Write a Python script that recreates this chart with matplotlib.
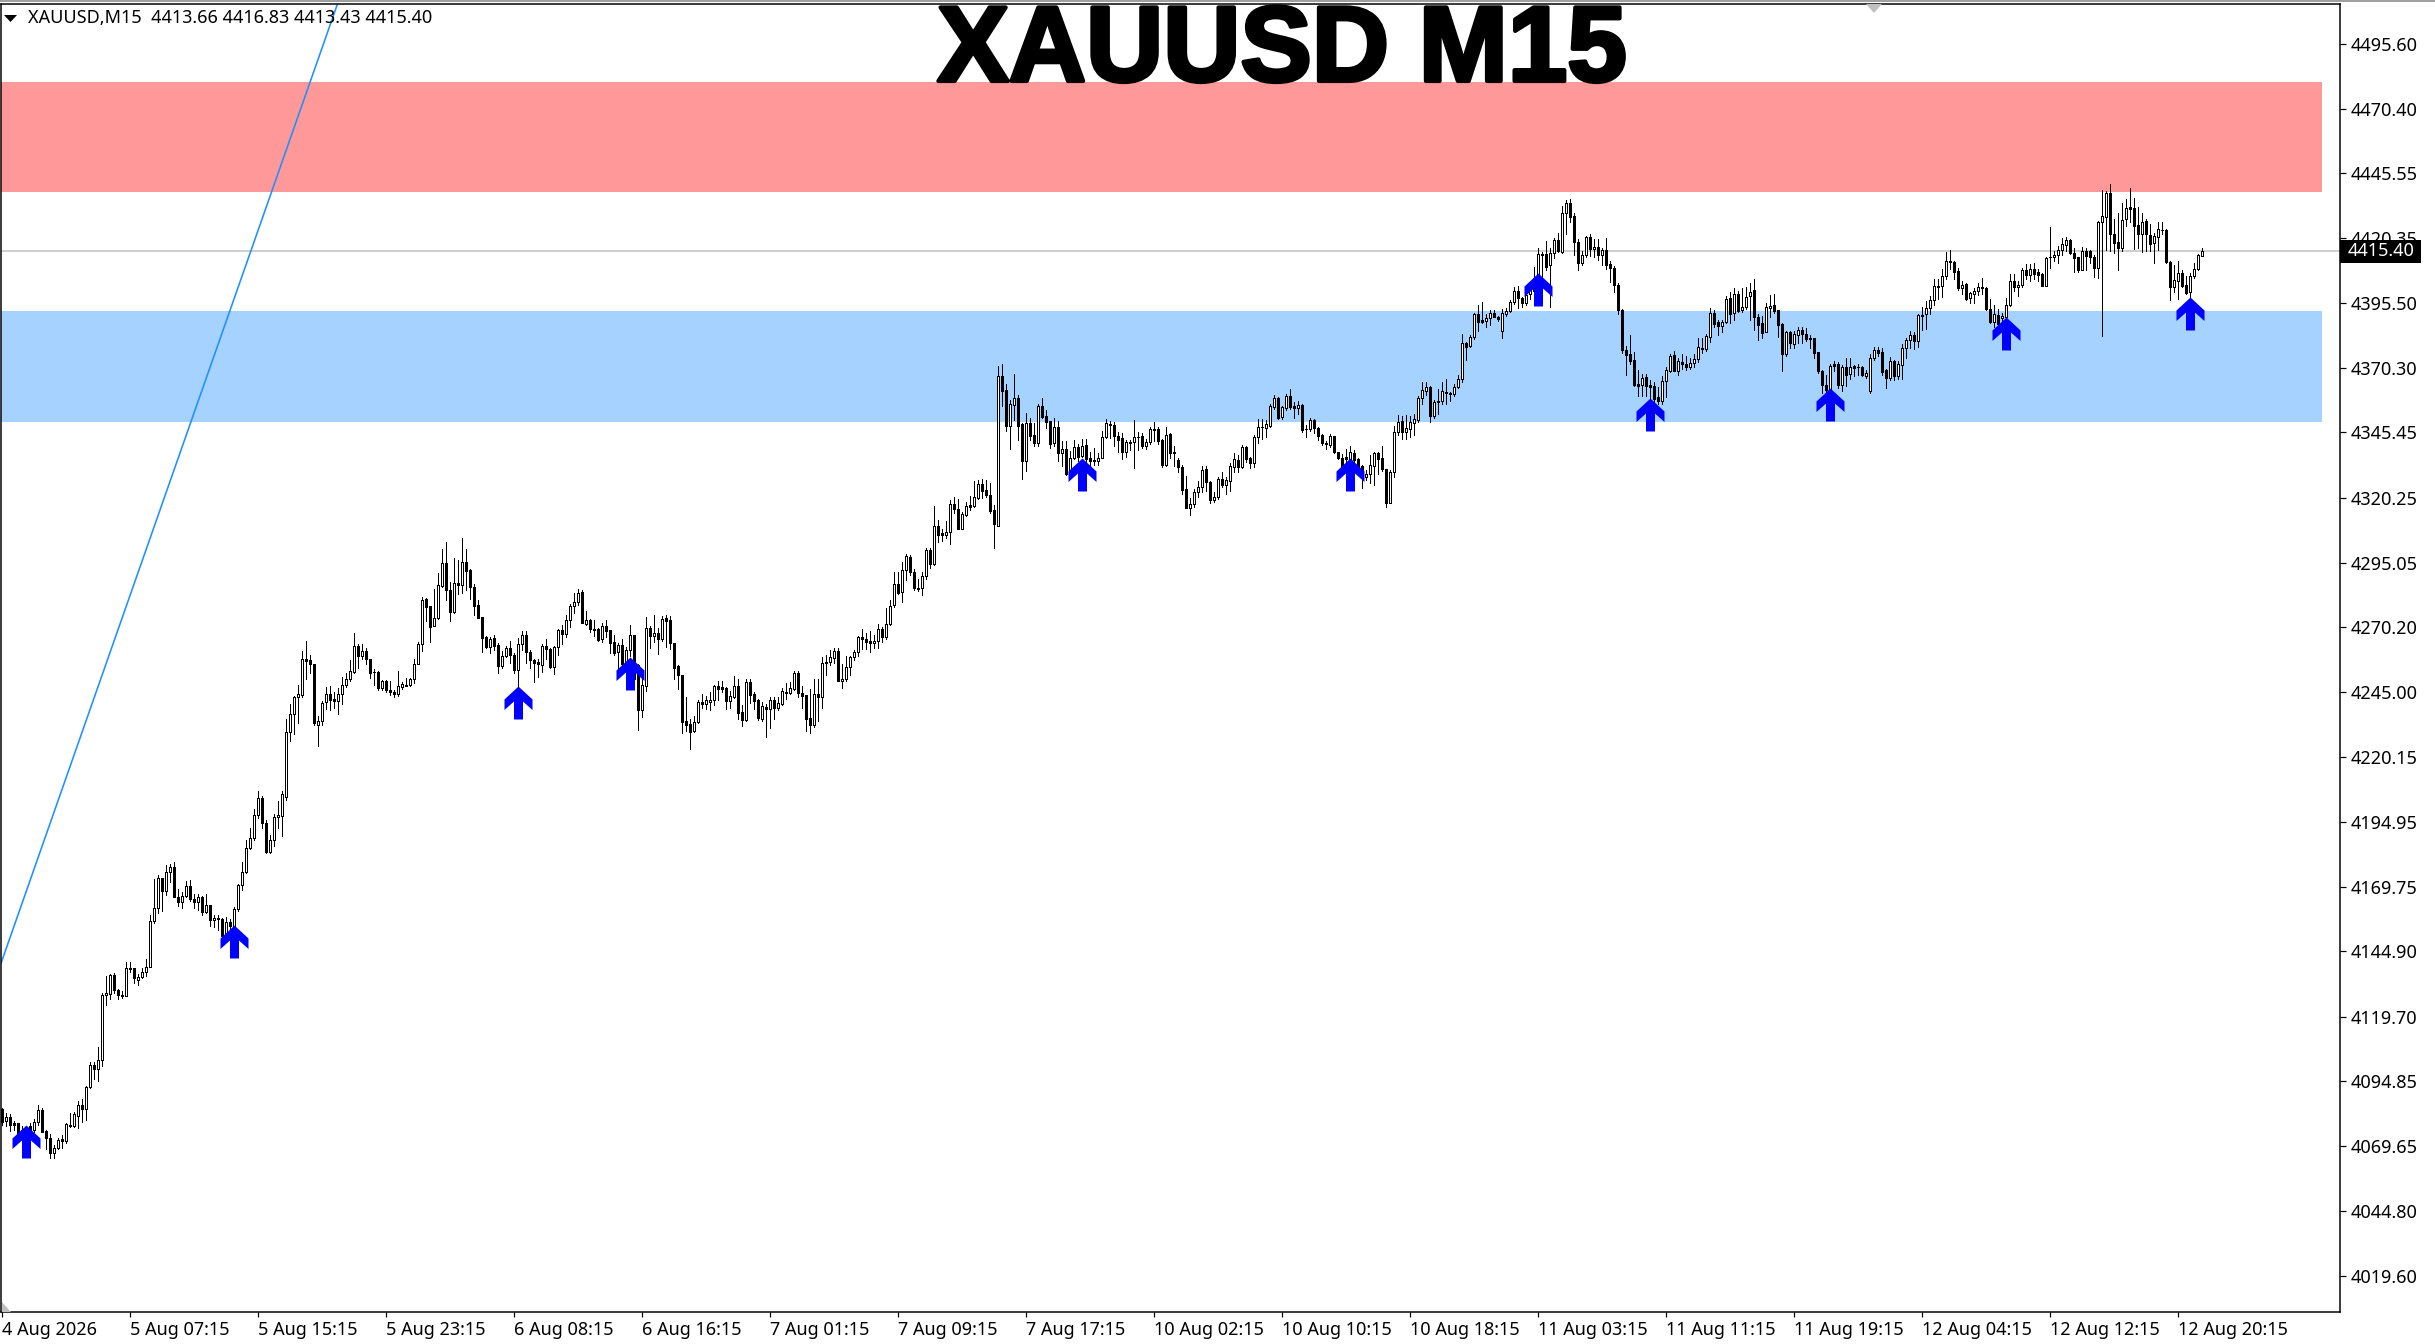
import matplotlib
matplotlib.use("Agg")
import matplotlib.pyplot as plt
import matplotlib.patheffects as pe
from matplotlib.path import Path
from matplotlib.patches import Polygon, Rectangle
from matplotlib.transforms import blended_transform_factory

W, H = 2435, 1344
BLUE_ZONE = "#A6D2FF"
RED_ZONE = "#FF9999"

opens = [
4084,4079.5,4081,4078.5,4078.5,4076,4075.5,4077.5,4076,4079,
4083.5,4075.5,4073,4067,4069,4072.5,4071.5,4078,4077.5,4081.5,
4085.5,4084,4092.5,4101,4099.5,4103,4128,4128.5,4135.7,4130,
4128.2,4127.8,4138.4,4138.4,4134,4135,4136.8,4139,4156.6,4161.5,
4173.1,4168.4,4175.4,4177.4,4166,4164.1,4166.4,4170.3,4165.1,4164.1,
4165.8,4160.3,4162.7,4157,4158,4157.6,4151.2,4156.4,4154.7,4161.2,
4170.6,4175.7,4184.7,4188.6,4197.6,4204,4194.6,4183.4,4188,4196.7,
4197.4,4204.4,4229.5,4236.6,4243.2,4244,4257.7,4257.4,4255.8,4232.5,
4234.1,4241.3,4244.4,4242.3,4241.7,4244.5,4248,4250,4253,4262.7,
4259.1,4260.8,4258,4253,4253,4246.7,4249.3,4246,4245,4244.3,
4247.1,4248,4247.8,4250,4256,4263.5,4280.9,4278.3,4270.7,4273.8,
4286,4294.8,4284.7,4276.1,4287.4,4286.3,4295.2,4292.2,4285.5,4278.6,
4273.9,4266.3,4262.6,4265.8,4263.2,4255.2,4259.1,4262,4259.4,4253.7,
4263.6,4267,4260.4,4257.4,4256.6,4255.6,4263,4261.7,4254.9,4262.6,
4269,4267.7,4273.1,4278.3,4279.7,4283.6,4271.5,4273.1,4269.6,4269.4,
4265.4,4270.8,4269,4264.3,4260.7,4263.1,4255.9,4261.3,4267,4255.5,
4238.1,4247.5,4270,4266.7,4268.1,4265.7,4273.8,4273.1,4263.9,4255.1,
4251.5,4234.1,4232.6,4229.9,4233.5,4241.4,4240.6,4241.1,4241.9,4247.4,
4247,4246.5,4241.6,4243.3,4247.4,4237.3,4234.2,4249,4244.5,4242,
4234.7,4239.5,4238.6,4242.2,4238.9,4240.3,4245.1,4244.8,4246.2,4252.5,
4244.9,4243.9,4234.9,4232.3,4244.3,4243.3,4256.6,4256.6,4258.3,4260.9,
4249.4,4250,4254.6,4258.5,4260.6,4266.2,4265.7,4265,4263.9,4264.9,
4269.3,4266.4,4271.2,4278.7,4286.7,4283.6,4292.1,4297.1,4291.3,4285.2,
4285.1,4290,4299.8,4294.6,4309.1,4306.6,4305.8,4307,4317.6,4316,
4308.2,4313.6,4317.3,4317,4320.2,4325.3,4323,4321.2,4315.4,4309.4,
4367,4361.6,4348,4356,4358.5,4348.6,4334.4,4349.2,4344.4,4341.5,
4355.6,4351.7,4349.8,4341.4,4347.3,4337.5,4338.8,4329.2,4335.7,4339.6,
4336.2,4340.5,4335.4,4334.7,4334.4,4335.7,4343.6,4348.6,4348.1,4344,
4343.1,4338,4341.6,4341.8,4343.8,4344,4340.1,4341.6,4346.8,4346.7,
4342.5,4333,4344.6,4337.9,4334.7,4332.2,4323.4,4316.3,4317.6,4322.5,
4324.4,4331.1,4326.4,4319.3,4320.3,4327.3,4325.1,4326.8,4332.2,4334.7,
4332.2,4339.6,4335.4,4333.7,4343.5,4347.3,4347.2,4348,4355.4,4358.6,
4351.5,4354.8,4359.5,4355.6,4354.7,4356,4346.8,4346.7,4350.2,4347,
4344.4,4341.3,4340.5,4344,4337.9,4335.7,4336,4335,4337.6,4335,
4332.4,4328,4329.2,4332.4,4337.3,4335.4,4331.1,4318,4330.2,4345.4,
4349.8,4345.4,4346.7,4349.2,4350.1,4358.6,4361.5,4362.8,4351.7,4357.3,
4357.4,4360.9,4360.6,4360.3,4363.1,4366.2,4379.8,4378.9,4382.1,4391,
4388.7,4388.6,4389.5,4391.4,4389.9,4384.6,4391.3,4392.2,4395.6,4400,
4397.5,4395.5,4398.8,4400,4405,4414.5,4414.5,4410,4414.9,4419.7,
4415.2,4430,4434.2,4429,4418.8,4410.9,4413.8,4420.7,4416.2,4417.1,
4413.9,4415.7,4410.4,4409.1,4402.5,4392.6,4377.2,4375.7,4373.4,4364,
4363.7,4366.7,4363.6,4363.3,4359.1,4357.7,4365.4,4369.3,4375.2,4369.3,
4372.7,4372,4370.7,4372.3,4373.6,4378.2,4377.7,4382.3,4391.7,4388.1,
4386.5,4387.9,4397.3,4391.7,4398.7,4392.5,4394,4398,4400.4,4390,
4387.5,4384.3,4393.5,4394.6,4392.6,4387.2,4375.6,4384,4379.5,4383.1,
4384.9,4383.6,4381.7,4381.7,4376.3,4369.3,4363.9,4361.7,4371.7,4371.7,
4363.7,4370.7,4367.8,4371.1,4370.8,4370.5,4367.2,4361.3,4374.2,4377.2,
4376.3,4369.4,4366.5,4372.9,4367,4371.6,4378.2,4381,4383.2,4380.8,
4390.7,4391,4393.3,4396.5,4402,4402,4405.8,4411.6,4411.2,4407.7,
4401.2,4402.6,4397.5,4398.8,4400,4401.4,4401,4392.9,4388,4390.9,
4389.5,4390,4394.8,4403.7,4401.4,4402.4,4408,4406.1,4408.7,4407.4,
4406.5,4402,4413.3,4413.1,4414.1,4416,4417.8,4419.7,4414.9,4413,
4408.3,4415.5,4415.5,4413.2,4409,4426.7,4428.7,4437.7,4422.2,4418.8,
4416.7,4427.9,4432.3,4431.9,4425.4,4422.2,4427,4421.6,4418.4,4421,
4423.7,4423.5,4411.3,4401.6,4403.8,4406.8,4402.3,4399.7,4405.9,4408.4,
4413.66]

highs = [
4084.5,4082.5,4082,4079.5,4078.5,4077.5,4077,4078.5,4080,4085.5,
4084.5,4076,4074.5,4070,4073,4074,4078.5,4082.5,4083,4087,
4088,4093,4102,4102,4108,4129,4135.4,4136.2,4136.5,4130.5,
4129.5,4141,4141,4138.4,4136,4138.5,4141.8,4158.8,4172.9,4174.5,
4173.3,4178.2,4178.8,4179.4,4169,4168,4172,4172.4,4167,4167,
4166.3,4167,4163,4159,4158.9,4157.8,4158.3,4157.6,4162,4171,
4179.5,4188,4192.5,4200,4207,4205,4195.5,4190,4198,4203,
4206.8,4234.5,4240.3,4243.5,4247.8,4260.8,4265,4259.5,4255.8,4236,
4241.5,4247,4247.3,4245,4246.5,4250.8,4252.3,4257.3,4267.8,4263.5,
4263.5,4262,4258,4254,4253.3,4249.8,4249.8,4249.3,4245.8,4253.4,
4249,4250.5,4250.5,4258,4264.3,4282,4281.5,4278.5,4284.8,4291,
4300.3,4303,4287.8,4297,4296,4304.5,4300.3,4292.8,4287,4280.8,
4274,4266.6,4266.3,4267,4264,4261,4263,4265,4260,4265.8,
4268.5,4268.5,4261.2,4258,4258,4263.5,4265.5,4262,4262.8,4269.4,
4271,4275,4279,4283.5,4284.8,4284.5,4276.3,4273.4,4272.8,4270,
4271.6,4273,4269,4267,4264,4265.5,4262.5,4271,4267.3,4256,
4251,4274,4270.5,4275,4270,4274.4,4275,4274.5,4263.9,4255.5,
4251.5,4243,4234.5,4236,4242,4244.5,4243.5,4245,4248,4249.3,
4249.5,4247,4245.5,4251.2,4250,4240,4250.3,4250,4245,4242.3,
4241.3,4240.5,4243.3,4243.3,4243,4246.5,4248.4,4249,4253.3,4253.3,
4247.5,4244,4246.2,4250,4250,4258.5,4259.5,4261.5,4262,4262,
4255.8,4259.2,4259.2,4261.3,4266.7,4269.3,4268,4268.8,4267.1,4271.2,
4270.4,4277.5,4280.5,4291.3,4291.3,4295.2,4298.6,4298,4292.8,4288.7,
4291.5,4300.7,4300.7,4316.9,4311.5,4308.2,4311,4319.1,4320.5,4319.5,
4314.5,4318.4,4320.8,4326.5,4327,4327.5,4327,4325.7,4317.5,4371,
4372,4364,4358.1,4368,4360,4349.2,4352.8,4350.8,4349,4356.3,
4358.5,4354,4349.8,4350.8,4349.7,4342,4342,4338.4,4342.5,4341,
4343,4343,4338,4339.3,4337.6,4345.8,4350.4,4349.8,4349.5,4345.5,
4345,4342.5,4342.5,4350.2,4345.5,4345,4343,4347.5,4349.3,4347.5,
4343,4347.5,4345,4340,4335.5,4332.8,4328.5,4320,4323.5,4326.5,
4332.4,4332.4,4326.5,4322.5,4328,4330,4328,4333.5,4337.5,4336.5,
4340.5,4340.2,4336,4344.5,4350.6,4350.5,4350.2,4356.3,4360,4359,
4355.5,4360.2,4362,4357,4357.5,4356.3,4348.4,4351,4350.5,4347.3,
4344.6,4342,4344.8,4344.2,4338,4337,4339,4340,4338.5,4335.5,
4333,4331,4336.5,4338,4338,4340,4331.1,4330.8,4348,4352.2,
4351.9,4352.2,4351.9,4352.5,4359.5,4365,4365,4363.5,4358,4362,
4365,4366,4361.2,4364,4367.5,4383.4,4380.5,4383,4391.6,4394.5,
4395.6,4391,4392.5,4392.5,4390.5,4392.9,4393.5,4396.4,4401.7,4402,
4397.8,4400,4402,4409.4,4416.5,4415,4419.5,4416.8,4420.5,4422.6,
4433,4435,4435.5,4430,4420,4415.5,4421.3,4422,4420,4420,
4416.7,4420.5,4411.5,4409.5,4403,4393,4378.8,4383,4376.3,4369.5,
4368,4368,4365.5,4365,4363,4367,4370.8,4375.8,4376.8,4374,
4375.5,4375,4374,4375.5,4382,4382,4383.5,4393.5,4392.5,4389,
4389,4398,4399.8,4401,4400,4401,4401.5,4403,4404.6,4391,
4390.5,4395.5,4398.5,4399,4392.8,4387.5,4384.5,4384.5,4384.5,4386,
4386,4385.8,4383,4382,4376.5,4369.5,4367.5,4372,4373,4372.5,
4371.5,4374.3,4374,4371.5,4372,4371,4369.5,4375.5,4378.5,4378.5,
4378,4370,4374.5,4373.3,4373,4379.5,4381.8,4384.5,4384,4391,
4394,4396,4398,4404.8,4404.7,4408.5,4415,4416,4411.5,4409,
4404,4403,4399.8,4401,4403,4405,4401.5,4397,4394.5,4393,
4391.5,4397.5,4406.5,4406.5,4404,4409,4410.5,4410.5,4411,4408.5,
4407,4413.2,4424.6,4415.5,4417.5,4420.5,4421,4420,4416.5,4413.2,
4417,4416.5,4416,4414,4427,4439,4438.5,4441.5,4428,4430,
4434,4435.5,4440,4436,4432.5,4430,4428,4426,4422.5,4426.5,
4426.5,4424,4411.5,4410,4411.5,4408,4406,4407,4411,4414.3,
4416.83]

lows = [
4078,4077.5,4075.5,4076,4072,4073,4074,4075,4075,4078,
4075,4068.5,4065,4065,4068.5,4069,4071,4077,4077,4076.8,
4079,4079.8,4092,4095.5,4095,4100.5,4124.2,4126.5,4129,4126.7,
4127,4127.8,4137,4132.8,4132,4134.5,4135.5,4139,4156,4159.8,
4160.6,4166.7,4171.8,4166,4162.5,4161.7,4165.8,4164.5,4161.7,4161,
4159,4159.9,4154.8,4154.2,4153,4150,4150.5,4153,4154.5,4160.5,
4168.5,4175,4184.5,4188,4196.5,4192.5,4183,4183,4185.5,4192.5,
4189.5,4203.5,4226.2,4228.7,4233.3,4243,4250,4252.5,4232.2,4224.3,
4232.5,4238.6,4238,4239,4236.7,4240.5,4247,4249.5,4252.5,4254.5,
4258,4256,4250.5,4247.8,4245.8,4246,4245,4244,4243,4243.5,
4246.3,4247.4,4247.5,4248.5,4256,4261,4272.5,4264.5,4270.5,4273.5,
4285.8,4280.5,4272.6,4275.5,4283,4283.5,4284.5,4281,4275,4273.6,
4260.7,4262,4260.2,4261.5,4252.5,4254.5,4258.5,4256.5,4252.5,4247.5,
4261.5,4256.3,4254.3,4249,4251,4253,4258,4254.2,4252,4259.5,
4263.5,4266.5,4270.3,4275.7,4278.8,4271.6,4271,4268.3,4266.7,4264.8,
4264.4,4266.4,4260.2,4259.5,4253.8,4255,4255,4259,4248,4230.4,
4235.5,4245.5,4262,4264.5,4259.8,4265,4262.5,4261.7,4250.2,4246.3,
4229.3,4230,4223,4229.5,4233,4239,4238.5,4238,4240,4242,
4245,4238.7,4239,4242.8,4234.8,4232,4234,4241,4238.5,4234.3,
4234,4227.7,4231.4,4234.5,4238.3,4240,4242.5,4244.5,4246,4243,
4239,4230,4229.3,4231.5,4234,4239,4251.6,4255.5,4256.5,4249.4,
4246.8,4249.5,4251.6,4257.5,4259,4261.8,4261.8,4260.4,4262,4262,
4264.5,4265.5,4271,4278,4283,4280,4288.4,4290.5,4284.5,4284,
4282.7,4288.8,4293.1,4294,4303,4303.5,4304.7,4302.2,4314.3,4308.2,
4308.2,4313,4315.5,4316.5,4319.8,4320.2,4320.5,4314.4,4300.7,4309.4,
4355.7,4346,4339,4350.2,4342.5,4327.3,4330.5,4342.5,4340,4340.2,
4350.9,4347,4339.5,4340,4334.4,4332.4,4329,4328,4335,4334.5,
4335.8,4334,4332.4,4333,4333,4335.5,4343.2,4343.4,4340,4337.8,
4335,4336,4338.5,4331.8,4338.5,4339.3,4339,4341,4342,4341,
4332,4332.5,4335.5,4332.5,4330,4321.5,4316.3,4313.3,4316.5,4320.5,
4322.5,4322.6,4318.2,4318.5,4319.5,4324.5,4321.5,4322.9,4330,4330,
4331.5,4334,4331.5,4332,4341.5,4343,4343.5,4347.5,4354.5,4350.5,
4350.7,4354,4354.5,4351,4352.5,4345.5,4343.7,4346,4345,4342.5,
4340.5,4339,4339.8,4337.5,4335,4331.5,4332,4333,4333,4330,
4324,4327,4325.8,4325,4329.5,4330.5,4316.7,4318,4328,4344.5,
4342.7,4343,4343.7,4344.5,4349.5,4356.5,4359.8,4349.5,4351,4352.5,
4356.5,4356.5,4357.7,4359.5,4362.5,4365,4373.4,4378.5,4381.5,4384.6,
4387.5,4386,4386.7,4389.8,4388.5,4382,4390.5,4392,4395,4393.5,
4394,4394.8,4397,4398,4404,4404,4408,4393.9,4412.8,4415,
4414.8,4422,4426.5,4414,4408.2,4410,4413,4413.5,4413.2,4412,
4410,4408.5,4403.5,4399.8,4391.2,4376,4367.7,4372,4363.2,4359.5,
4359.5,4359.5,4358.5,4357,4356.5,4356.5,4359,4368.8,4369,4367.5,
4370,4369.5,4370,4370.5,4372.5,4376,4377,4380.5,4386,4383,
4384,4387.5,4387.5,4388.9,4391.8,4392,4393,4389,4384.9,4381,
4381.7,4384,4390,4391.5,4382.3,4369.2,4375,4378,4378,4380,
4380,4380.8,4378,4374,4368.5,4360.5,4360,4361,4369,4362.5,
4361.5,4363.5,4366,4367,4367.5,4367,4366.5,4360.7,4373.5,4375,
4367.5,4362.5,4365.5,4365.5,4366,4366,4374,4378,4377.5,4378.5,
4385,4385.5,4391,4394.5,4397,4397.7,4404.5,4408.5,4404.8,4400.5,
4399,4396.5,4395.5,4395.5,4398.5,4399,4392.7,4387.5,4386,4385.5,
4386,4388,4394.3,4400,4398,4401.5,4404.5,4403.8,4404.5,4404,
4402,4401.8,4408.8,4411.5,4410.7,4414,4415.5,4414.3,4407.5,4407.5,
4408,4408,4411,4405.5,4405,4382.7,4416,4415.5,4414.7,4408,
4415.5,4425,4426.5,4416.3,4416.7,4415,4415.5,4415.5,4411,4416,
4422,4411,4396.5,4399.5,4397,4401.5,4399,4397.5,4405,4408,
4413.43]

closes = [
4079,4081.1,4078,4078,4074.5,4075,4076.5,4076,4079,4083.5,
4075.3,4073,4067,4069,4072,4071.5,4078.2,4077.5,4081.9,4085.5,
4084,4092.6,4101,4099.5,4103,4128,4128.7,4135.7,4130,4128.2,
4127.8,4138.4,4138.1,4134.5,4135,4136.8,4139,4156.6,4161.5,4173.1,
4168.4,4175.4,4177.4,4166,4164.1,4166.4,4170.3,4165.1,4164.1,4165.8,
4160.3,4162.7,4157,4158,4157.5,4150.8,4156.4,4154.7,4161.2,4170.6,
4175.7,4184.7,4188.6,4197.6,4204,4194.6,4183.4,4188,4196.7,4197.6,
4205.7,4229.5,4236.8,4243,4244.2,4257.7,4257.2,4255.8,4233,4234.1,
4241,4244.4,4242,4241.7,4244.5,4248,4250.3,4253.2,4262.7,4259.1,
4260.8,4258,4252.5,4252.8,4246.7,4249.3,4245.8,4245.2,4244.5,4247.6,
4248.1,4247.6,4250.1,4256.1,4263.5,4280.5,4278,4270.3,4273.8,4286.3,
4294.8,4284.5,4276.1,4287.4,4286.5,4295.2,4292,4285.8,4278.4,4273.8,
4266,4262.6,4265.5,4262.8,4255.2,4259.1,4262.3,4259.4,4253.6,4263.5,
4267,4260.7,4257.4,4256.4,4256,4263,4261.8,4254.7,4262.6,4269,
4267.6,4273.1,4278.3,4279.7,4283.2,4271.6,4273.1,4269.5,4269,4265.2,
4270.7,4268.8,4264.1,4260.3,4263.1,4255.9,4261.3,4267,4250.1,4238.1,
4247.8,4270,4266.7,4268.1,4265.4,4273.5,4272.6,4263.9,4254.5,4251.5,
4233.6,4232.4,4229.7,4233.5,4241.1,4240.6,4241.9,4241.9,4247.4,4246.2,
4246.2,4241.6,4243.4,4247.4,4237.1,4234.2,4248.8,4244,4241.6,4234.9,
4239.9,4238.6,4242.2,4238.9,4240.7,4245.5,4244.8,4246.5,4252.3,4244.8,
4243.6,4234.6,4232.3,4244.2,4243.3,4256.5,4256.4,4258.5,4260.9,4249.4,
4250.3,4254.6,4258.8,4260.6,4266.2,4265.7,4264.5,4263.9,4264.9,4269.3,
4266.4,4271.2,4278.5,4286.7,4283.4,4292.1,4297.6,4291.3,4285.2,4285,
4290,4299.8,4294.6,4309.1,4305.8,4305.8,4306.8,4317.6,4315.9,4308.2,
4313.7,4316.8,4316.5,4320.4,4325.3,4322.8,4321.2,4314.9,4310.1,4367,
4361.5,4348,4356.2,4358.5,4348,4334.4,4348.9,4344.1,4341.5,4355.6,
4351.4,4349.5,4340.9,4347.3,4337.5,4338.8,4329.2,4335.7,4339.6,4336,
4340.2,4335,4334.4,4334.4,4335.7,4343.8,4348.9,4348.1,4344,4342.4,
4338,4341.8,4341.2,4343.5,4343.5,4340.1,4341.6,4346.6,4346.5,4342.2,
4332.8,4344.3,4337.6,4337.3,4332.2,4323.1,4316.3,4317.6,4322.5,4324.4,
4330.9,4326.4,4319.3,4320.3,4327.3,4325.1,4327,4332.4,4335,4332.2,
4339.6,4335.2,4333.7,4343.5,4347.3,4347.4,4348.6,4355.6,4358.6,4351.1,
4355.1,4359.5,4355.1,4354.7,4355.9,4346.3,4346.6,4350.2,4347,4344,
4341.4,4340.8,4344,4337.9,4335.6,4332.2,4335,4337.7,4334.7,4331.5,
4328,4329.2,4332.8,4337.3,4335.1,4331.1,4318,4330.2,4345.4,4349.5,
4345.4,4347,4349.5,4350.4,4358.6,4361.8,4362.8,4351.7,4357.3,4357.7,
4361.4,4360.5,4360.3,4363.1,4365.9,4379.8,4378.5,4382.1,4391,4388.2,
4388.2,4389.5,4391.4,4390.1,4389.1,4391.4,4392.2,4395.6,4400,4397.5,
4395.2,4398.4,4400.4,4405,4414.3,4414.1,4409.4,4414.9,4419.7,4415.4,
4430,4434.1,4428.7,4418.8,4410.9,4413.8,4420.7,4416.2,4417.1,4413.9,
4415.8,4410,4409,4402.3,4392.6,4377.2,4375.3,4373.1,4363.7,4363.5,
4366.3,4363.3,4363.1,4358.3,4357.6,4365.4,4369.5,4374.8,4369.3,4373,
4371.8,4370.7,4372.3,4373.6,4378.5,4377.7,4382.6,4391.7,4387.3,4386.5,
4387.9,4397.1,4391.3,4398.7,4392.4,4394,4397.8,4399.8,4389.8,4386.8,
4383.9,4393.7,4394.4,4392.4,4386.8,4375.6,4384,4379.8,4383.4,4384.9,
4383.4,4381.3,4381.3,4376.1,4369.1,4363.7,4361.7,4371.1,4371.1,4363.7,
4370.5,4367.5,4370.7,4370.1,4370.6,4367.5,4368.2,4374.2,4377.2,4376.1,
4368.8,4366.5,4372.9,4367,4372,4378.2,4381,4383.2,4380.8,4390.6,
4390.5,4393.3,4396.5,4401.9,4401.6,4405.8,4411.6,4411.2,4407.4,4401.3,
4402.5,4397.1,4399.2,4400.1,4401.4,4401,4392.9,4388,4391.3,4387.2,
4390.3,4394.8,4403.7,4401.6,4402.5,4408,4406.1,4408.7,4406.5,4406.1,
4402,4412.9,4413.1,4414.1,4416,4418.1,4419.9,4414.8,4412.8,4408,
4415.4,4413.5,4413,4409,4426.5,4428.9,4437.7,4422.2,4418.6,4416.7,
4427.6,4431.9,4431.8,4425.2,4422.2,4426.7,4422,4418.1,4421.2,4423.8,
4423.4,4411.3,4401.6,4404.2,4406.8,4402,4399.4,4406,4408.7,4413.8,
4415.40]

arrow_bars = [6, 58, 129, 157, 270, 337, 384, 412, 457, 501, 547]
arrow_prices = [4077.9, 4155.1, 4247.6, 4258.6, 4335.4, 4335.4, 4407.0, 4358.8, 4362.7, 4390.1, 4397.8]

zone_red = (4438.3, 4480.7)
zone_blue = (4349.5, 4392.3)
zone_end_bar = 580.0
last_price = 4415.40
trend_bars = [-0.1, 83.9]
trend_prices = [4140.4, 4510.5]

y_ticks = [4495.60,4470.40,4445.55,4420.35,4395.50,4370.30,4345.45,4320.25,4295.05,4270.20,
           4245.00,4220.15,4194.95,4169.75,4144.90,4119.70,4094.85,4069.65,4044.80,4019.60]
x_tick_labels = ["4 Aug 2026","5 Aug 07:15","5 Aug 15:15","5 Aug 23:15","6 Aug 08:15","6 Aug 16:15",
                 "7 Aug 01:15","7 Aug 09:15","7 Aug 17:15","10 Aug 02:15","10 Aug 10:15","10 Aug 18:15",
                 "11 Aug 03:15","11 Aug 11:15","11 Aug 19:15","12 Aug 04:15","12 Aug 12:15","12 Aug 20:15"]
x_tick_bars = list(range(0, 32 * len(x_tick_labels), 32))

plt.rcParams['font.family'] = ['Noto Sans', 'DejaVu Sans']
fig = plt.figure(figsize=(W / 100, H / 100), dpi=100, facecolor="white")
L, R, T, B = 1, 2340, 4, 1312
ax = fig.add_axes([L / W, 1 - B / H, (R - L) / W, (B - T) / H])
ax.set_xlim((L - 1.5) / 4, (R - 1.5) / 4)
ax.set_ylim(4005.6, 4510.9)
ax.set_facecolor("white")

px = 0.72
x0, x1 = ax.get_xlim()
ax.axhspan(*zone_red, xmin=0, xmax=(zone_end_bar - x0) / (x1 - x0), color=RED_ZONE, lw=0, zorder=1)
ax.axhspan(*zone_blue, xmin=0, xmax=(zone_end_bar - x0) / (x1 - x0), color=BLUE_ZONE, lw=0, zorder=1)
ax.axhline(last_price, color="#C0C0C0", lw=1.5 * px, zorder=2)
ax.plot(trend_bars, trend_prices, color="#1E90FF", lw=1.6 * px, zorder=2.5)

idx = list(range(len(closes)))
ax.vlines(idx, lows, highs, color="black", lw=1.0 * px, zorder=3, antialiased=False)
for i, o, c in zip(idx, opens, closes):
    up = c >= o
    ax.bar(i, max(abs(c - o), 0.2), bottom=min(o, c), width=0.5,
           facecolor="white" if up else "black", edgecolor="black", linewidth=1.0 * px,
           antialiased=False, zorder=4)

# up-arrow glyph anchored at its tip
verts = [(0, 0), (14, -13), (14, -23.5), (4.5, -15), (4.5, -33), (-4.5, -33), (-4.5, -15), (-14, -23.5), (-14, -13), (0, 0)]
arrow = Path(verts, closed=True)
ax.plot(arrow_bars, arrow_prices, ls="none", marker=arrow, markersize=66 * px,
        markerfacecolor="#0000FF", markeredgecolor="none", zorder=5)

for s in ax.spines.values():
    s.set_color("black")
    s.set_linewidth(1.5 * px)
ax.yaxis.tick_right()
ax.set_yticks(y_ticks)
ax.set_yticklabels([f"{v:.2f}" for v in y_ticks], fontsize=13)
ax.set_xticks(x_tick_bars)
ax.set_xticklabels(x_tick_labels, fontsize=13, ha="left")
ax.tick_params(axis="y", length=4, width=1.2 * px, pad=4)
ax.tick_params(axis="x", length=3.5, width=1.2 * px, pad=3)

# current price tag
tag_tr = blended_transform_factory(ax.transAxes, ax.transData)
ax.add_patch(Rectangle((1.0, last_price - 4.44), 81 / (R - L), 8.88, transform=tag_tr, fc="black", ec="none",
                       clip_on=False, zorder=9))
ax.annotate(f"{last_price:.2f}", xy=(1, last_price), xycoords=("axes fraction", "data"),
            xytext=(8, 0), textcoords="offset pixels", ha="left", va="center", fontsize=13, color="white", zorder=10,
            annotation_clip=False)

def xf(p): return p / W
def yf(p): return 1 - p / H
fig.text(xf(1282), yf(81), "XAUUSD M15", ha="center", va="baseline", fontsize=77, fontweight="bold",
         family="Liberation Sans", color="black", zorder=20,
         path_effects=[pe.withStroke(linewidth=3, foreground="black")])
fig.text(xf(28), yf(18), "XAUUSD,M15  4413.66 4416.83 4413.43 4415.40", ha="left", va="center",
         fontsize=13, color="black", zorder=20)
fig.patches.append(Polygon([[xf(4), yf(15)], [xf(17), yf(15)], [xf(10.5), yf(22)]], closed=True, fc="black", ec="none",
                           transform=fig.transFigure))
fig.patches.append(Rectangle((0, yf(2)), 1, 2 / H, fc="#A0A0A0", ec="none", transform=fig.transFigure))
fig.patches.append(Polygon([[xf(1866), yf(4)], [xf(1882), yf(4)], [xf(1874), yf(13)]], closed=True, fc="#C0C0C0", ec="none",
                           transform=fig.transFigure))
fig.patches.append(Polygon([[xf(2), yf(1302)], [xf(2), yf(1312)], [xf(11), yf(1312)]], closed=True, fc="#C0C0C0", ec="none",
                           transform=fig.transFigure))

fig.savefig("out.png", dpi=100, facecolor="white")
